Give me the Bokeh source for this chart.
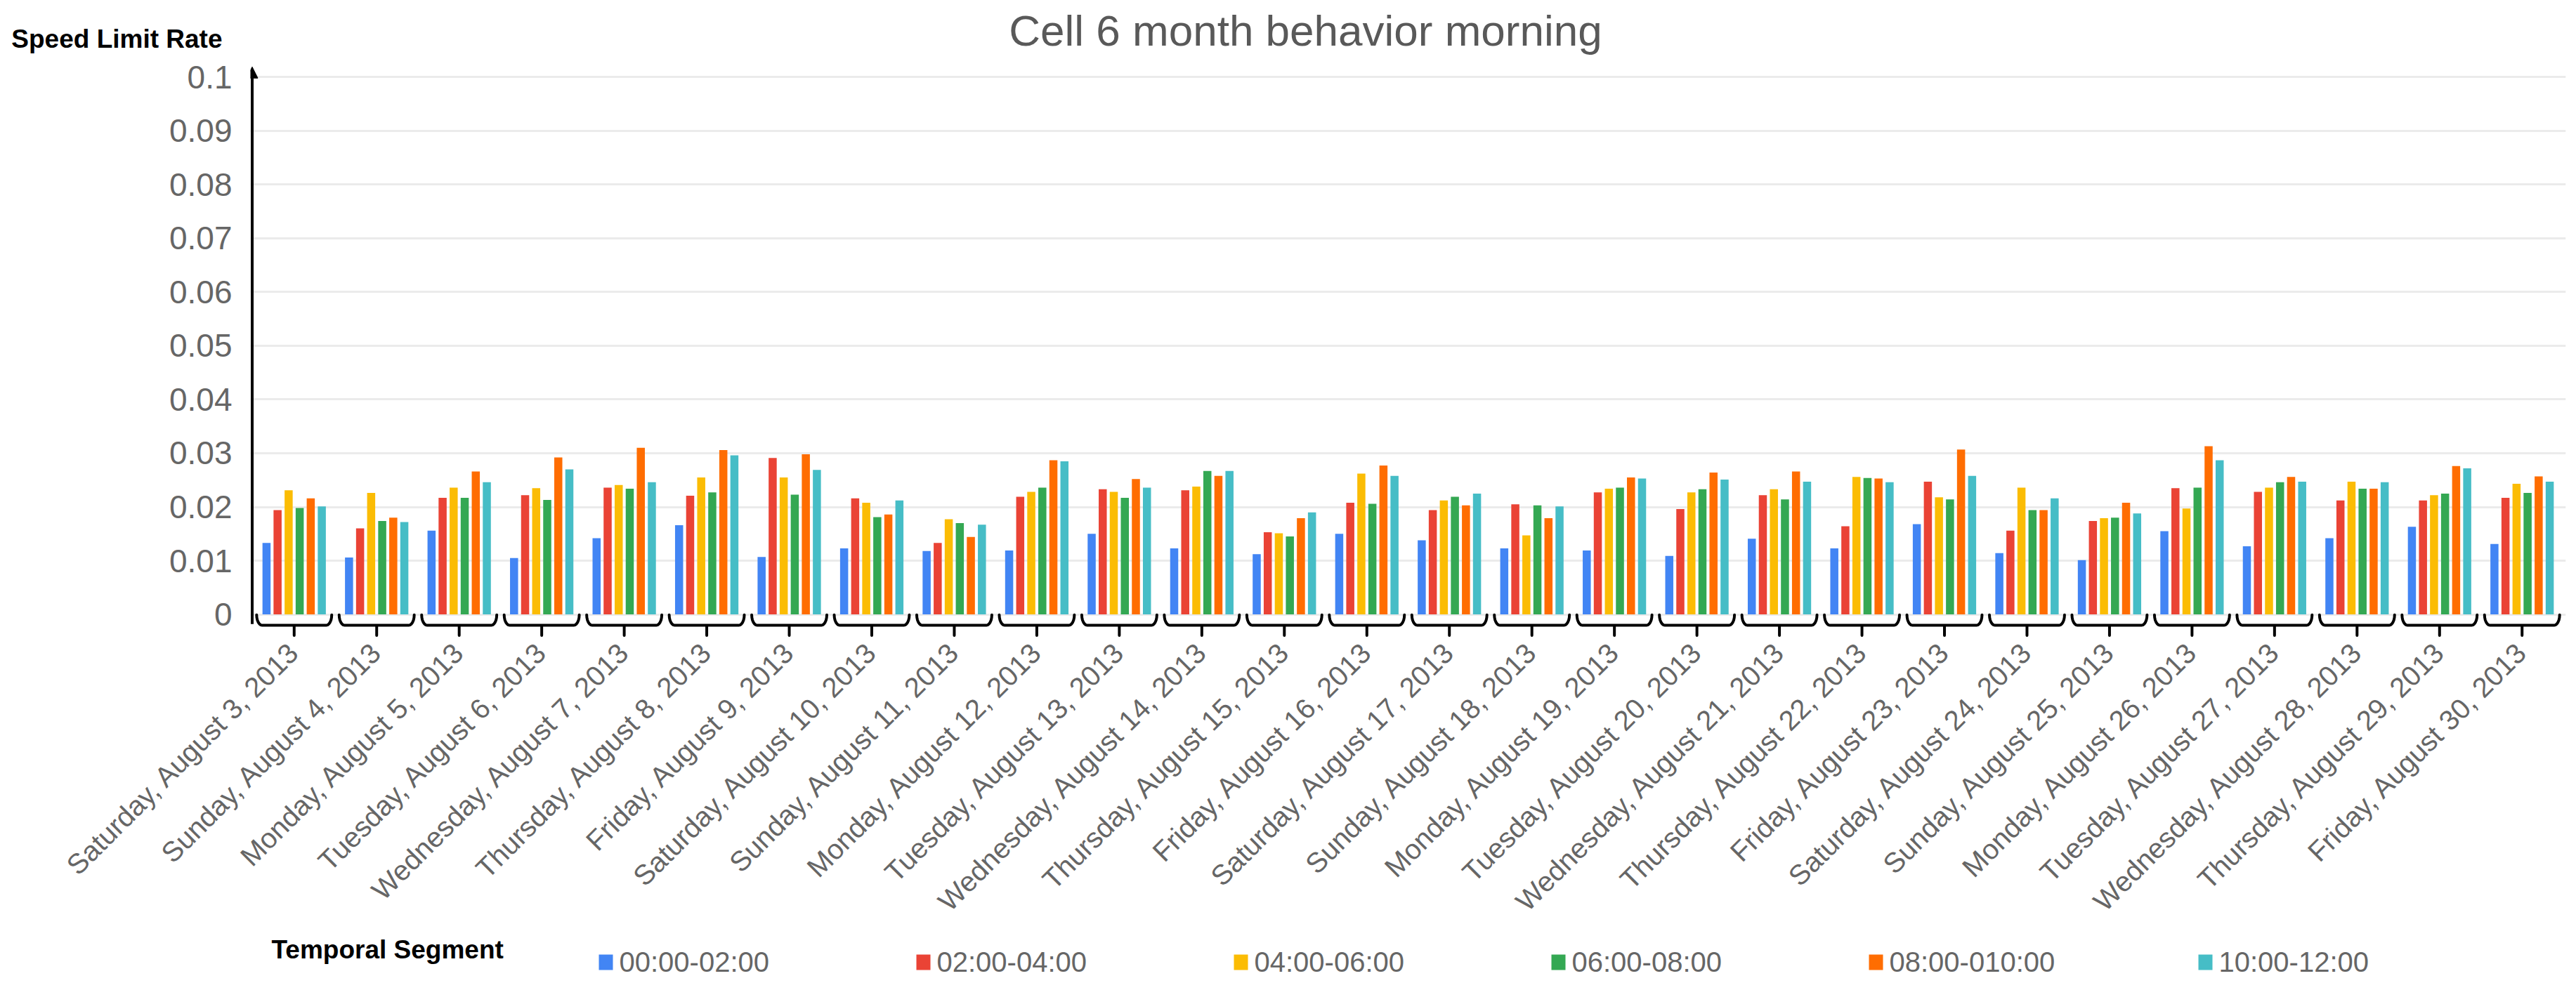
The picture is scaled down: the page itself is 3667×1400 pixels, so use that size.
from math import pi, cos, sin, radians
from bokeh.plotting import figure
from bokeh.layouts import column
from bokeh.models import (ColumnDataSource, FactorRange, Range1d, FixedTicker, Arrow, NormalHead,
                          LinearAxis)
from bokeh.transform import dodge
from bokeh.core.properties import value
from bokeh.embed import file_html
from bokeh.resources import INLINE

# ---------------- data ----------------
dates = [
    "Saturday, August 3, 2013", "Sunday, August 4, 2013", "Monday, August 5, 2013",
    "Tuesday, August 6, 2013", "Wednesday, August 7, 2013", "Thursday, August 8, 2013",
    "Friday, August 9, 2013", "Saturday, August 10, 2013", "Sunday, August 11, 2013",
    "Monday, August 12, 2013", "Tuesday, August 13, 2013", "Wednesday, August 14, 2013",
    "Thursday, August 15, 2013", "Friday, August 16, 2013", "Saturday, August 17, 2013",
    "Sunday, August 18, 2013", "Monday, August 19, 2013", "Tuesday, August 20, 2013",
    "Wednesday, August 21, 2013", "Thursday, August 22, 2013", "Friday, August 23, 2013",
    "Saturday, August 24, 2013", "Sunday, August 25, 2013", "Monday, August 26, 2013",
    "Tuesday, August 27, 2013", "Wednesday, August 28, 2013", "Thursday, August 29, 2013",
    "Friday, August 30, 2013",
]

segments = ["00:00-02:00", "02:00-04:00", "04:00-06:00", "06:00-08:00", "08:00-010:00", "10:00-12:00"]

seg_00_02 = [0.0133, 0.0106, 0.0156, 0.0105, 0.0142, 0.0166, 0.0107, 0.0123, 0.0118, 0.0119,
             0.0150, 0.0123, 0.0112, 0.0150, 0.0138, 0.0123, 0.0119, 0.0109, 0.0141, 0.0123,
             0.0168, 0.0114, 0.0101, 0.0155, 0.0127, 0.0142, 0.0163, 0.0131]
seg_02_04 = [0.0194, 0.0160, 0.0217, 0.0222, 0.0236, 0.0221, 0.0291, 0.0216, 0.0133, 0.0219,
             0.0233, 0.0231, 0.0153, 0.0208, 0.0194, 0.0205, 0.0227, 0.0196, 0.0222, 0.0164,
             0.0247, 0.0156, 0.0174, 0.0235, 0.0228, 0.0212, 0.0212, 0.0217]
seg_04_06 = [0.0231, 0.0226, 0.0236, 0.0235, 0.0241, 0.0255, 0.0255, 0.0208, 0.0177, 0.0228,
             0.0228, 0.0238, 0.0151, 0.0262, 0.0212, 0.0147, 0.0234, 0.0227, 0.0233, 0.0256,
             0.0218, 0.0236, 0.0179, 0.0197, 0.0236, 0.0247, 0.0222, 0.0243]
seg_06_08 = [0.0198, 0.0174, 0.0217, 0.0213, 0.0234, 0.0227, 0.0223, 0.0181, 0.0170, 0.0236,
             0.0217, 0.0267, 0.0145, 0.0206, 0.0219, 0.0203, 0.0236, 0.0233, 0.0214, 0.0254,
             0.0214, 0.0194, 0.0180, 0.0236, 0.0246, 0.0234, 0.0225, 0.0226]
seg_08_10 = [0.0216, 0.0180, 0.0266, 0.0292, 0.0310, 0.0306, 0.0298, 0.0186, 0.0144, 0.0287,
             0.0252, 0.0258, 0.0179, 0.0277, 0.0203, 0.0179, 0.0255, 0.0264, 0.0266, 0.0253,
             0.0307, 0.0194, 0.0208, 0.0313, 0.0256, 0.0234, 0.0276, 0.0257]
seg_10_12 = [0.0201, 0.0172, 0.0246, 0.0270, 0.0246, 0.0296, 0.0269, 0.0212, 0.0167, 0.0285,
             0.0236, 0.0267, 0.0190, 0.0258, 0.0225, 0.0201, 0.0253, 0.0251, 0.0247, 0.0246,
             0.0258, 0.0216, 0.0188, 0.0287, 0.0247, 0.0246, 0.0272, 0.0247]

y_ticks = [0, 0.01, 0.02, 0.03, 0.04, 0.05, 0.06, 0.07, 0.08, 0.09, 0.1]
y_tick_labels = ["0", "0.01", "0.02", "0.03", "0.04", "0.05", "0.06", "0.07", "0.08", "0.09", "0.1"]

colors = ["#4285F4", "#EA4335", "#FBBC04", "#34A853", "#FF6D01", "#46BDC6"]

title_text = "Cell 6 month behavior morning"
y_title_text = "Speed Limit Rate"
legend_title_text = "Temporal Segment"

# ---------------- layout constants (pixels) ----------------
FONT = "Liberation Sans"
W = 3660
HEAD_H, FOOT_H = 80, 72
BORDER_L, BORDER_R, BORDER_T, BORDER_B = 356, 8, 14, 392
FRAME_H = 838
MAIN_H = BORDER_T + FRAME_H + BORDER_B
FOOT_TOP = HEAD_H + MAIN_H
PAD = 0.03

def strip(height):
    # plots in a column share their frame's left/right edges, so x is in page pixels
    f = figure(width=W, height=height, title=None,
               x_range=Range1d(BORDER_L, W - BORDER_R), y_range=Range1d(0, height),
               output_backend="svg", toolbar_location=None,
               min_border_left=BORDER_L, min_border_right=BORDER_R,
               min_border_top=0, min_border_bottom=0,
               x_axis_location=None, y_axis_location=None)
    f.outline_line_color = None
    f.grid.visible = False
    f.background_fill_color = "white"
    f.border_fill_color = "white"
    return f

# ---------------- header: title + y title ----------------
ph = strip(HEAD_H)
ph.text(x=[1858], y=[HEAD_H - 43], text=[title_text], text_font=value(FONT), text_font_size=value("62px"),
        text_color="#595959", text_align="center", text_baseline="middle")
ytitle_axis = LinearAxis(ticker=FixedTicker(ticks=[HEAD_H - 55]),
                         major_label_overrides={HEAD_H - 55: y_title_text},
                         axis_line_color=None, major_tick_line_color=None, minor_tick_line_color=None,
                         major_tick_out=0, major_tick_in=0, major_label_standoff=40,
                         major_label_text_font=FONT, major_label_text_font_size="37px",
                         major_label_text_font_style="bold", major_label_text_color="black")
ph.add_layout(ytitle_axis, "left")

# ---------------- main chart ----------------
series = [seg_00_02, seg_02_04, seg_04_06, seg_06_08, seg_08_10, seg_10_12]
cols = ["s0", "s1", "s2", "s3", "s4", "s5"]
data = {"date": dates}
for c, s in zip(cols, series):
    data[c] = s
src = ColumnDataSource(data)

p = figure(width=W, height=MAIN_H, title=None,
           x_range=FactorRange(factors=dates, range_padding=PAD, range_padding_units="absolute"),
           y_range=Range1d(-0.0045, 0.102),
           output_backend="svg", toolbar_location=None,
           min_border_left=BORDER_L, min_border_right=BORDER_R,
           min_border_top=BORDER_T, min_border_bottom=BORDER_B)
p.outline_line_color = None
p.background_fill_color = "white"
p.border_fill_color = "white"

slot = 0.134
bar_w = 0.098
for k, (c, col) in enumerate(zip(cols, colors)):
    p.vbar(x=dodge("date", (k - 2.5) * slot, range=p.x_range), top=c, width=bar_w,
           source=src, fill_color=col, line_color=None)

# curly brackets under each date group
hw, rx = 0.455, 0.068
y_top, y_h, y_tip = -0.0001, -0.00203, -0.0039
ry = y_top - y_h
angles = [0, 15, 30, 45, 60, 75, 90]
bx, by = [], []
for i in range(len(dates)):
    cx = i + 0.5
    xs, ys = [], []
    for a in angles:
        t = radians(a)
        xs.append(cx - hw + rx - rx * cos(t))
        ys.append(y_top - ry * sin(t))
    xs += [cx, cx, cx]
    ys += [y_h, y_tip, y_h]
    for a in reversed(angles):
        t = radians(a)
        xs.append(cx + hw - rx + rx * cos(t))
        ys.append(y_top - ry * sin(t))
    bx.append(xs)
    by.append(ys)
p.multi_line(bx, by, line_color="black", line_width=4, line_join="round", line_cap="round")

p.xgrid.visible = False
p.ygrid.ticker = FixedTicker(ticks=y_ticks)
p.ygrid.grid_line_color = "#ebebeb"
p.ygrid.grid_line_width = 3

p.yaxis.ticker = FixedTicker(ticks=y_ticks)
p.yaxis.major_label_overrides = dict(zip(y_ticks, y_tick_labels))
p.yaxis.axis_line_color = None
p.yaxis.major_tick_line_color = None
p.yaxis.minor_tick_line_color = None
p.yaxis.major_tick_out = 0
p.yaxis.major_tick_in = 0
p.yaxis.major_label_standoff = 26
p.yaxis.major_label_text_font = FONT
p.yaxis.major_label_text_font_size = "46px"
p.yaxis.major_label_text_color = "#666666"

p.xaxis.axis_line_color = None
p.xaxis.major_tick_line_color = None
p.xaxis.major_tick_out = 0
p.xaxis.major_tick_in = 0
p.xaxis.major_label_standoff = 12
p.xaxis.major_label_orientation = pi / 4
p.xaxis.major_label_text_font = FONT
p.xaxis.major_label_text_font_size = "40px"
p.xaxis.major_label_text_color = "#666666"

# y axis line with arrow head (just inside the frame's left edge)
frame_w = W - BORDER_L - BORDER_R
px_per_unit = frame_w / (len(dates) + 2 * PAD)
axis_x = -PAD + 2.5 / px_per_unit
p.add_layout(Arrow(end=NormalHead(size=16, fill_color="black", line_color="black", line_width=1),
                   x_start=axis_x, y_start=-0.0018, x_end=axis_x, y_end=0.1019,
                   line_color="black", line_width=4))

# ---------------- footer: legend ----------------
pf = strip(FOOT_H)
def fy(page_y):
    return FOOT_TOP + FOOT_H - page_y

pf.text(x=[386], y=[fy(1352)], text=[legend_title_text], text_font=value(FONT),
        text_font_size=value("37px"), text_font_style="bold", text_color="black",
        text_align="left", text_baseline="middle")

sw_w, sw_h, gap = 20, 22, 9
sw_x, lab_x = [], []
cursor = 852
for s in segments:
    sw_x.append(cursor + sw_w / 2)
    lab_x.append(cursor + sw_w + gap)
    cursor += 265 + 17 * len(s)
leg_src = ColumnDataSource(dict(x=sw_x, lx=lab_x, y=[fy(1370)] * len(segments),
                                ly=[fy(1369)] * len(segments), seg=segments, color=colors))
pf.rect(x="x", y="y", width=sw_w, height=sw_h, fill_color="color", line_color=None, source=leg_src)
pf.text(x="lx", y="ly", text="seg", text_font=value(FONT), text_font_size=value("40px"),
        text_color="#666666", text_align="left", text_baseline="middle", source=leg_src)

layout = column(ph, p, pf, spacing=0)
open("out.html", "w").write(file_html(layout, INLINE))
